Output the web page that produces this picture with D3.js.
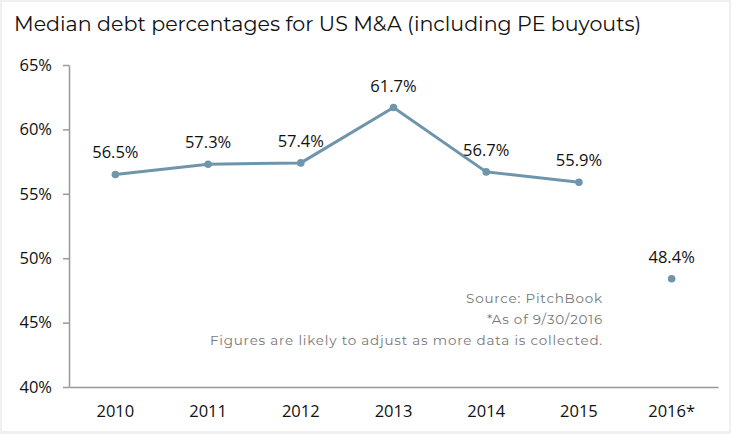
<!DOCTYPE html>
<html>
<head>
<meta charset="utf-8">
<script src="https://cdn.jsdelivr.net/npm/d3@7"></script>
<style>
  html, body { margin: 0; padding: 0; background: #f0f0f0; }
  svg { display: block; }
</style>
</head>
<body>
<svg id="chart" width="731" height="434"></svg>
<script>
// chart data
var years = ["2010", "2011", "2012", "2013", "2014", "2015", "2016*"];
var debt_pct = [56.5, 57.3, 57.4, 61.7, 56.7, 55.9, 48.4];
var y_ticks = [40, 45, 50, 55, 60, 65];
var notes = ["Source: PitchBook", "*As of 9/30/2016", "Figures are likely to adjust as more data is collected."];

var svg = d3.select("#chart");
var margin = {top: 65, right: 13, bottom: 47, left: 69};
var width = +svg.attr("width"), height = +svg.attr("height");

// white panel
svg.append("rect")
  .attr("x", 2).attr("y", 2)
  .attr("width", width - 4).attr("height", height - 5)
  .attr("fill", "#fff");

svg.append("text")
  .attr("x", 14).attr("y", 31)
  .attr("font-family", "Montserrat, 'Noto Sans', sans-serif")
  .attr("font-size", 20.6)
  .attr("fill", "#111")
  .text("Median debt percentages for US M&A (including PE buyouts)");

var x = d3.scaleBand()
  .domain(years)
  .range([margin.left, width - margin.right]);

var y = d3.scaleLinear()
  .domain([40, 65])
  .range([height - margin.bottom, margin.top]);

// y axis
var yAxis = svg.append("g")
  .attr("transform", "translate(" + margin.left + ",0)")
  .call(d3.axisLeft(y).tickValues(y_ticks).tickSize(6).tickSizeOuter(0)
    .tickFormat(function(d) { return d + "%"; }));
yAxis.select(".domain").attr("stroke", "#999").attr("stroke-width", 1.5);
yAxis.selectAll(".tick line").attr("stroke", "#999").attr("stroke-width", 1.5);
yAxis.selectAll("text")
  .attr("font-family", "'Open Sans', sans-serif")
  .attr("font-size", 16.5)
  .attr("fill", "#111")
  .attr("dx", -8);

// x axis
var xAxis = svg.append("g")
  .attr("transform", "translate(0," + (height - margin.bottom) + ")")
  .call(d3.axisBottom(x).tickSize(0).tickSizeOuter(0));
xAxis.select(".domain").attr("stroke", "#999").attr("stroke-width", 1.5);
xAxis.selectAll("text")
  .attr("font-family", "'Open Sans', sans-serif")
  .attr("font-size", 16.5)
  .attr("fill", "#111")
  .attr("dy", 27);

var points = years.map(function(d, i) { return {year: d, value: debt_pct[i]}; });
var line_points = points.slice(0, 6);

var line = d3.line()
  .x(function(d) { return x(d.year) + x.bandwidth() / 2; })
  .y(function(d) { return y(d.value); });

svg.append("path")
  .datum(line_points)
  .attr("fill", "none")
  .attr("stroke", "#6f95ad")
  .attr("stroke-width", 3)
  .attr("d", line);

svg.selectAll("circle.pt")
  .data(points)
  .enter()
  .append("circle")
    .attr("class", "pt")
    .attr("cx", function(d) { return x(d.year) + x.bandwidth() / 2; })
    .attr("cy", function(d) { return y(d.value); })
    .attr("r", 3.8)
    .attr("fill", "#6f95ad");

svg.selectAll("text.lbl")
  .data(points)
  .enter()
  .append("text")
    .attr("class", "lbl")
    .attr("x", function(d) { return x(d.year) + x.bandwidth() / 2; })
    .attr("y", function(d) { return y(d.value) - 16; })
    .attr("text-anchor", "middle")
    .attr("font-family", "'Open Sans', sans-serif")
    .attr("font-size", 16.5)
    .attr("fill", "#111")
    .text(function(d) { return d.value.toFixed(1) + "%"; });

svg.selectAll("text.note")
  .data(notes)
  .enter()
  .append("text")
    .attr("class", "note")
    .attr("x", 603)
    .attr("y", function(d, i) { return 303 + i * 21; })
    .attr("text-anchor", "end")
    .attr("font-family", "Montserrat, 'Noto Sans', sans-serif")
    .attr("font-size", 13.5)
    .attr("letter-spacing", 0.8)
    .attr("fill", "#777")
    .text(function(d) { return d; });
</script>
</body>
</html>
